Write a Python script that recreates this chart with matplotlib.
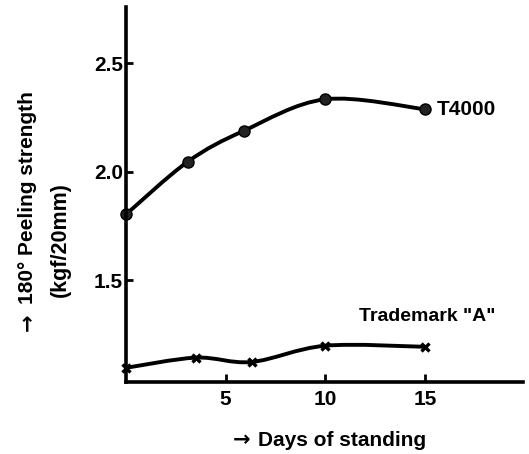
import matplotlib
matplotlib.use("Agg")
import matplotlib.pyplot as plt
from matplotlib.path import Path
from matplotlib.patches import PathPatch
import numpy as np

# ---- data ----
days_t4000 = [0, 3.1, 5.9, 10, 15]
t4000 = [1.803, 2.046, 2.188, 2.334, 2.288]
days_a = [0, 3.5, 6.3, 10, 15]
trademark_a = [1.095, 1.142, 1.122, 1.197, 1.192]
xticks = [5, 10, 15]
xticklabels = ["5", "10", "15"]
yticks = [1.5, 2.0, 2.5]
yticklabels = ["1.5", "2.0", "2.5"]

plt.rcParams['font.family'] = ['Liberation Sans', 'DejaVu Sans']

fig = plt.figure(figsize=(5.29, 4.54), dpi=100)
ax = fig.add_axes([126/529, 1 - 381.7/454, (523-126)/529, (381.7-6.7)/454])
ax.set_xlim(0, 19.92)
ax.set_ylim(1.031, 2.761)


def smooth_path(xs, ys):
    pts = np.column_stack([xs, ys]).astype(float)
    n = len(pts)
    verts = [pts[0]]
    codes = [Path.MOVETO]
    for i in range(n - 1):
        p0 = pts[i - 1] if i > 0 else pts[i]
        p1 = pts[i]
        p2 = pts[i + 1]
        p3 = pts[i + 2] if i + 2 < n else pts[i + 1]
        c1 = p1 + (p2 - p0) / 6.0
        c2 = p2 - (p3 - p1) / 6.0
        verts += [c1, c2, p2]
        codes += [Path.CURVE4] * 3
    return Path(verts, codes)


ax.add_patch(PathPatch(smooth_path(days_t4000, t4000), fill=False,
                       lw=2.8, ec='black', capstyle='round'))
ax.add_patch(PathPatch(smooth_path(days_a, trademark_a), fill=False,
                       lw=2.8, ec='black', capstyle='round'))
ax.plot(days_t4000, t4000, linestyle='none', marker='o', ms=8,
        mfc='#222222', mec='black', mew=1, clip_on=False)
ax.plot(days_a, trademark_a, linestyle='none', marker='x', ms=6,
        mec='black', mew=2.4, clip_on=False)

ax.text(15.6, 2.288, "T4000", fontsize=15, fontweight='bold', ha='left', va='center')
ax.text(11.67, 1.334, 'Trademark "A"', fontsize=14, fontweight='bold',
        ha='left', va='center')

for s in ['top', 'right']:
    ax.spines[s].set_visible(False)
for s in ['left', 'bottom']:
    ax.spines[s].set_linewidth(2.6)

ax.set_xticks(xticks)
ax.set_xticklabels(xticklabels, fontsize=15, fontweight='bold')
ax.set_yticks(yticks)
ax.set_yticklabels(yticklabels, fontsize=15, fontweight='bold')
ax.tick_params(axis='x', direction='in', length=6, width=2, pad=6)
ax.tick_params(axis='y', direction='in', length=5, width=2, pad=2)

# y label (two lines) with a bold arrow
fig.text(28/529, 1 - 322/454, "\u2192", rotation=90, family='DejaVu Sans',
         fontsize=15, fontweight='bold', ha='center', va='center')
fig.text(28/529, 1 - 198/454, "180\u00b0 Peeling strength", rotation=90,
         fontsize=15, fontweight='bold', ha='center', va='center')
fig.text(60/529, 1 - 240/454, "(kgf/20mm)", rotation=90,
         fontsize=15.5, fontweight='bold', ha='center', va='center')
# x label with a bold arrow
fig.text(242/529, 1 - 440/454, "\u2192", family='DejaVu Sans',
         fontsize=15, fontweight='bold', ha='center', va='center')
fig.text(342/529, 1 - 440/454, "Days of standing",
         fontsize=15, fontweight='bold', ha='center', va='center')

fig.savefig("out.png", dpi=100)
